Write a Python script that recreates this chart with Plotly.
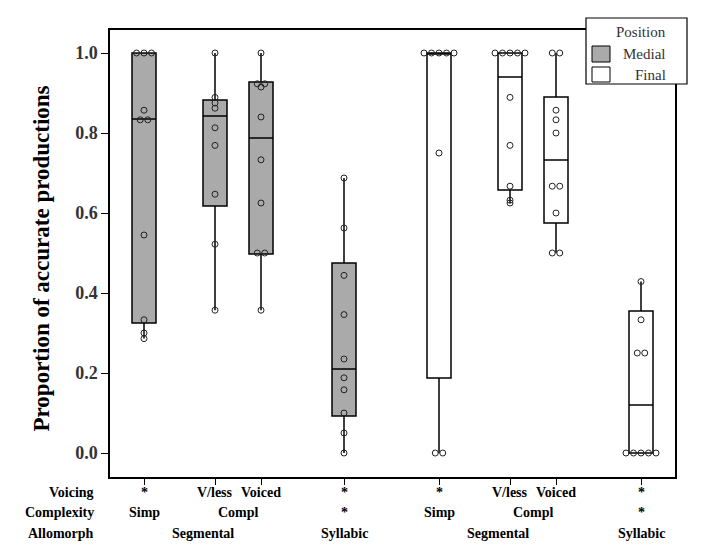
import plotly.graph_objects as go

# ---- data ----
group_names = ["Medial", "Final"]
box_positions = [34, 105, 151, 234, 329, 400, 446, 531]
box_group = ["Medial"] * 4 + ["Final"] * 4

voicing_labels = ["*", "V/less", "Voiced", "*", "*", "V/less", "Voiced", "*"]
complexity_labels = [("Simp", [0]), ("Compl", [1, 2]), ("*", [3]),
                     ("Simp", [4]), ("Compl", [5, 6]), ("*", [7])]
allomorph_labels = [("Segmental", [0, 1, 2]), ("Syllabic", [3]),
                    ("Segmental", [4, 5, 6]), ("Syllabic", [7])]

q1 = [0.325, 0.6175, 0.4975, 0.0925, 0.1875, 0.6575, 0.575, 0.0]
median = [0.835, 0.8425, 0.7875, 0.21, 1.0, 0.94, 0.7325, 0.12]
q3 = [1.0, 0.8825, 0.9275, 0.475, 1.0, 1.0, 0.89, 0.355]
lowerfence = [0.286, 0.357, 0.357, 0.0, 0.0, 0.625, 0.5, 0.0]
upperfence = [1.0, 1.0, 1.0, 0.6875, 1.0, 1.0, 1.0, 0.4286]

points = [
    [1.0, 1.0, 1.0, 0.857, 0.833, 0.833, 0.545, 0.333, 0.3, 0.286],
    [1.0, 0.889, 0.875, 0.862, 0.813, 0.769, 0.647, 0.522, 0.357],
    [1.0, 0.923, 0.923, 0.915, 0.84, 0.733, 0.625, 0.5, 0.5, 0.357],
    [0.6875, 0.5625, 0.444, 0.346, 0.235, 0.188, 0.158, 0.1, 0.05, 0.0],
    [1.0, 1.0, 1.0, 1.0, 1.0, 0.75, 0.0, 0.0],
    [1.0, 1.0, 1.0, 1.0, 1.0, 0.889, 0.769, 0.667, 0.632, 0.625],
    [1.0, 1.0, 0.857, 0.833, 0.8, 0.667, 0.667, 0.6, 0.5, 0.5],
    [0.4286, 0.333, 0.25, 0.25, 0.0, 0.0, 0.0, 0.0, 0.0],
]

y_ticks = [0.0, 0.2, 0.4, 0.6, 0.8, 1.0]

# ---- styling / geometry (page pixel coordinates) ----
PAGE_W, PAGE_H = 701, 556
OFF = 8  # default body margin of the html page
W, H = PAGE_W - 2 * OFF, PAGE_H - 2 * OFF
L, R, T, B = 110, 675, 30, 477
colors = {"Medial": "#aaaaaa", "Final": "#ffffff"}
serif = "Liberation Serif, Times New Roman, serif"


def px_x(p):
    return (p - L) / (R - L)


def px_y(p):
    return (B - p) / (B - T)


fig = go.Figure()

for g in group_names:
    idx = [i for i, gg in enumerate(box_group) if gg == g]
    fig.add_trace(go.Box(
        x=[box_positions[i] for i in idx],
        q1=[q1[i] for i in idx],
        median=[median[i] for i in idx],
        q3=[q3[i] for i in idx],
        lowerfence=[lowerfence[i] for i in idx],
        upperfence=[upperfence[i] for i in idx],
        width=24,
        whiskerwidth=0,
        fillcolor=colors[g],
        line=dict(color="black", width=1.5),
        boxpoints=False,
        name=g,
        showlegend=False,
        hoverinfo="skip",
    ))

# individual points (ties spread horizontally)
px_all, py_all = [], []
for pos, vals in zip(box_positions, points):
    counts = {}
    for v in vals:
        counts[v] = counts.get(v, 0) + 1
    seen = {}
    for v in vals:
        n = counts[v]
        k = seen.get(v, 0)
        seen[v] = k + 1
        px_all.append(pos + (k - (n - 1) / 2) * 7.5)
        py_all.append(v)

fig.add_trace(go.Scatter(
    x=px_all, y=py_all, mode="markers",
    marker=dict(symbol="circle-open", size=6, color="#222",
                line=dict(width=1, color="#222")),
    showlegend=False, hoverinfo="skip",
))

lab_font = dict(family=serif, size=14, color="black")
annotations = []
# row headers
row_y = [492, 513, 533]
for name, yy in zip(["Voicing", "Complexity", "Allomorph"], row_y):
    annotations.append(dict(x=px_x(96), y=px_y(yy), xref="paper", yref="paper",
                            text="<b>%s</b>" % name, showarrow=False,
                            xanchor="right", yanchor="middle", font=lab_font))
# row 1
for pos, lab in zip(box_positions, voicing_labels):
    annotations.append(dict(x=pos, y=px_y(row_y[0]), xref="x", yref="paper",
                            text="<b>%s</b>" % lab, showarrow=False,
                            xanchor="center", yanchor="middle", font=lab_font))
# rows 2, 3
for rowv, items in ((row_y[1], complexity_labels), (row_y[2], allomorph_labels)):
    for lab, members in items:
        xs = [box_positions[m] for m in members]
        xc = (min(xs) + max(xs)) / 2
        annotations.append(dict(x=xc, y=px_y(rowv), xref="x", yref="paper",
                                text="<b>%s</b>" % lab, showarrow=False,
                                xanchor="center", yanchor="middle",
                                font=lab_font))

# y title
annotations.append(dict(x=px_x(27), y=px_y(259), xref="paper", yref="paper",
                        text="<b>Proportion of accurate productions</b>",
                        textangle=-90, showarrow=False,
                        font=dict(family=serif, size=23, color="black")))

# legend (manual)
shapes = [
    dict(type="rect", xref="paper", yref="paper",
         x0=px_x(586), x1=px_x(687), y0=px_y(84), y1=px_y(18),
         fillcolor="white", line=dict(color="black", width=1.2), layer="above"),
    dict(type="rect", xref="paper", yref="paper",
         x0=px_x(592), x1=px_x(610), y0=px_y(62), y1=px_y(46),
         fillcolor=colors["Medial"], line=dict(color="black", width=1), layer="above"),
    dict(type="rect", xref="paper", yref="paper",
         x0=px_x(592), x1=px_x(610), y0=px_y(82), y1=px_y(67),
         fillcolor=colors["Final"], line=dict(color="black", width=1), layer="above"),
]
for txt, yy in (("Position", 32), ("Medial", 54), ("Final", 75)):
    annotations.append(dict(x=px_x(668), y=px_y(yy), xref="paper", yref="paper",
                            text=txt, showarrow=False, xanchor="right",
                            yanchor="middle",
                            font=dict(family=serif, size=15, color="#333")))

fig.update_layout(
    width=W, height=H, autosize=False,
    margin=dict(l=L - OFF, r=(W + OFF) - R, t=T - OFF, b=(H + OFF) - B, pad=0),
    paper_bgcolor="white", plot_bgcolor="white",
    shapes=shapes, annotations=annotations,
    xaxis=dict(range=[0, R - L], tickvals=box_positions,
               ticktext=[""] * len(box_positions), ticks="outside",
               ticklen=6, tickcolor="black", showline=True, mirror=True,
               linecolor="black", linewidth=1.5, showgrid=False,
               zeroline=False),
    yaxis=dict(range=[(453 - B) / 400, (453 - T) / 400], tickvals=y_ticks,
               ticktext=["<b>%.1f</b>" % v for v in y_ticks],
               ticks="outside", ticklen=7,
               tickcolor="black", showline=True, mirror=True,
               linecolor="black", linewidth=1.5, showgrid=False,
               zeroline=False,
               tickfont=dict(family=serif, size=18, color="#333")),
    font=dict(family=serif),
)

fig.write_html("out.html")
